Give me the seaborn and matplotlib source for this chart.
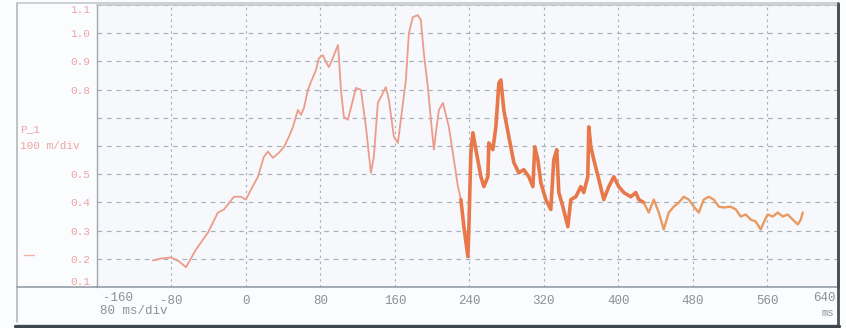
import matplotlib
matplotlib.use("Agg")
import matplotlib.pyplot as plt
from matplotlib.lines import Line2D
import numpy as np
import pandas as pd
import seaborn as sns

# P_1 trace, time in ms and amplitude in V
time_ms = [
    -100, -91.3, -80.5, -71.9, -64.4, -53.7, -40.8, -30.1, -23.6, -12.9, -5.4, 0,
    5.4, 12.9, 19.3, 23.6, 29.0, 35.4, 40.8, 46.2, 50.5, 55.8, 59.1, 62.3, 66.6,
    69.8, 75.2, 78.4, 82.7, 85.9, 89.1, 93.4, 98.8, 99.9, 102.0, 105.2, 109.5,
    114.9, 118.1, 123.5, 128.9, 134.2, 137.4, 141.7, 145.0, 150.3, 153.6, 158.9,
    163.2, 166.4, 171.8, 175.0, 179.3, 184.7, 187.9, 191.1, 195.4, 198.7, 201.9,
    204.0, 207.3, 211.6, 214.8, 218.0, 223.4, 227.7, 230.9, 234.1, 238.4, 239.5,
    241.6, 243.8, 247.0, 252.4, 255.6, 259.9, 260.9, 265.2, 268.5, 271.7, 273.8,
    277.0, 282.4, 287.8, 293.1, 298.5, 303.9, 308.2, 310.3, 313.6, 316.8, 322.1,
    327.5, 330.7, 333.9, 336.1, 340.4, 345.8, 349.0, 354.4, 359.7, 362.9, 367.2,
    368.3, 370.5, 373.7, 379.1, 384.4, 389.8, 395.2, 400.5, 405.9, 413.4, 418.8,
    422.0, 427.4, 432.7, 438.1, 443.5, 448.8, 454.2, 459.6, 464.9, 470.3, 475.7,
    481.1, 486.4, 491.8, 497.2, 502.5, 507.9, 513.3, 520.8, 526.2, 531.5, 536.9,
    542.3, 547.6, 553.0, 556.2, 560.5, 565.9, 571.3, 576.6, 582.0, 587.4, 592.8,
    596.0, 598.1,
]
p1_volts = [
    0.194, 0.201, 0.205, 0.191, 0.170, 0.233, 0.293, 0.364, 0.375, 0.420, 0.420, 0.410,
    0.445, 0.491, 0.562, 0.580, 0.558, 0.576, 0.597, 0.633, 0.668, 0.728, 0.710, 0.735, 0.799,
    0.827, 0.869, 0.912, 0.922, 0.898, 0.880, 0.912, 0.958, 0.915, 0.799, 0.703, 0.693,
    0.763, 0.806, 0.799, 0.668, 0.505, 0.562, 0.753, 0.774, 0.809, 0.763, 0.633,
    0.611, 0.693, 0.834, 1.000, 1.057, 1.064, 1.046, 0.929, 0.809, 0.693, 0.587,
    0.647, 0.728, 0.753, 0.710, 0.668, 0.551, 0.456, 0.410, 0.314, 0.208, 0.314,
    0.576, 0.647, 0.587, 0.491, 0.456, 0.491, 0.611, 0.587, 0.668, 0.823, 0.834,
    0.728, 0.633, 0.541, 0.505, 0.516, 0.491, 0.456, 0.597, 0.551, 0.470, 0.410,
    0.375, 0.551, 0.587, 0.435, 0.385, 0.314, 0.410, 0.420, 0.456, 0.435, 0.491,
    0.668, 0.597, 0.551, 0.481, 0.410, 0.456, 0.491, 0.456, 0.435, 0.420, 0.435,
    0.410, 0.399, 0.364, 0.410, 0.364, 0.304, 0.364, 0.385, 0.399, 0.420, 0.410,
    0.385, 0.364, 0.410, 0.420, 0.410, 0.385, 0.382, 0.385, 0.375, 0.350, 0.357,
    0.339, 0.332, 0.304, 0.329, 0.357, 0.350, 0.364, 0.350, 0.357, 0.339, 0.322,
    0.339, 0.364,
]

x_ticks = [-80, 0, 80, 160, 240, 320, 400, 480, 560]
x_tick_labels = ["-80", "0", "80", "160", "240", "320", "400", "480", "560"]
y_ticks = [0.1, 0.2, 0.3, 0.4, 0.5, 0.6, 0.7, 0.8, 0.9, 1.0, 1.1]
y_tick_labels = ["0.1", "0.2", "0.3", "0.4", "0.5", "", "", "0.8", "0.9", "1.0", "1.1"]

df = pd.DataFrame({"t": time_ms, "v": p1_volts})

sns.set_theme(style="white")
plt.rcParams["font.family"] = ["Liberation Mono", "DejaVu Sans Mono"]

W, H = 846, 328
fig = plt.figure(figsize=(W / 100, H / 100), dpi=100, facecolor="#fbfcfd")
ax = fig.add_axes([97 / W, 1 - 287 / H, 741 / W, 282 / H])
ax.set_facecolor("#f6f8fb")

# trace in three stretches: quiet rise, noisy burst, settling tail
seg_a = df[df.t <= 231]
seg_b = df[(df.t >= 230.9) & (df.t <= 428)]
seg_c = df[df.t >= 427]
sns.lineplot(data=seg_a, x="t", y="v", sort=False, estimator=None,
             color="#ec9c8a", lw=1.3, ax=ax)
sns.lineplot(data=seg_b, x="t", y="v", sort=False, estimator=None,
             color="#e8784a", lw=2.6, ax=ax)
sns.lineplot(data=seg_c, x="t", y="v", sort=False, estimator=None,
             color="#e99a60", lw=1.7, ax=ax)

ax.set_xlim(-160, 636)
ax.set_ylim(0.1, 1.1)
ax.set_xlabel("")
ax.set_ylabel("")

ax.set_xticks(x_ticks)
ax.set_xticklabels(x_tick_labels)
ax.set_yticks(y_ticks)
ax.set_yticklabels(y_tick_labels)
ax.tick_params(axis="x", length=0, pad=6, labelsize=9, labelcolor="#8c9096")
ax.tick_params(axis="y", length=0, pad=5, labelsize=8, labelcolor="#eda4a4")
ylabels = ax.get_yticklabels()
ylabels[0].set_va("bottom")
ylabels[-1].set_va("top")

ax.xaxis.grid(True, color="#a8b0bc", linestyle=(0, (2, 3)), lw=0.85)
ax.yaxis.grid(True, color="#a8b0bc", linestyle=(0, (4, 4)), lw=0.85)

for side, col, lw in [("left", "#a4a8ac", 1.0), ("bottom", "#8e969e", 1.1),
                      ("top", "#c4c8cc", 1.2), ("right", "#4a525a", 2.0)]:
    ax.spines[side].set_color(col)
    ax.spines[side].set_linewidth(lw)

def fx(x):
    return x / W

def fy(y):
    return 1 - y / H

# outer panel frame
fig.add_artist(Line2D([fx(17), fx(17)], [fy(3), fy(322)], color="#b4b8bc", lw=1.2))
fig.add_artist(Line2D([fx(17), fx(838)], [fy(3), fy(3)], color="#c4c8cc", lw=1.2))
fig.add_artist(Line2D([fx(17), fx(97)], [fy(287), fy(287)], color="#8e969e", lw=1.1))
fig.add_artist(Line2D([fx(838), fx(838)], [fy(3), fy(326)], color="#4a525a", lw=2.0))
fig.add_artist(Line2D([fx(15), fx(839)], [fy(326), fy(326)], color="#3e464e", lw=2.4))
fig.add_artist(Line2D([fx(24), fx(34)], [fy(255), fy(255)], color="#f0b0a8", lw=1.0))

# axis annotations
fig.text(fx(103), fy(298), "-160", ha="left", va="center", fontsize=9, color="#8c9096")
fig.text(fx(836), fy(298), "640", ha="right", va="center", fontsize=9, color="#8c9096")
fig.text(fx(100), fy(311), "80 ms/div", ha="left", va="center", fontsize=9, color="#8c9096")
fig.text(fx(834), fy(313), "ms", ha="right", va="center", fontsize=7.5, color="#8c9096")
fig.text(fx(20), fy(129), "P_1", ha="left", va="center", fontsize=8, color="#eda4a4")
fig.text(fx(20), fy(146), "100 m/div", ha="left", va="center", fontsize=8, color="#eda4a4")

fig.savefig("out.png", dpi=100, facecolor=fig.get_facecolor())
